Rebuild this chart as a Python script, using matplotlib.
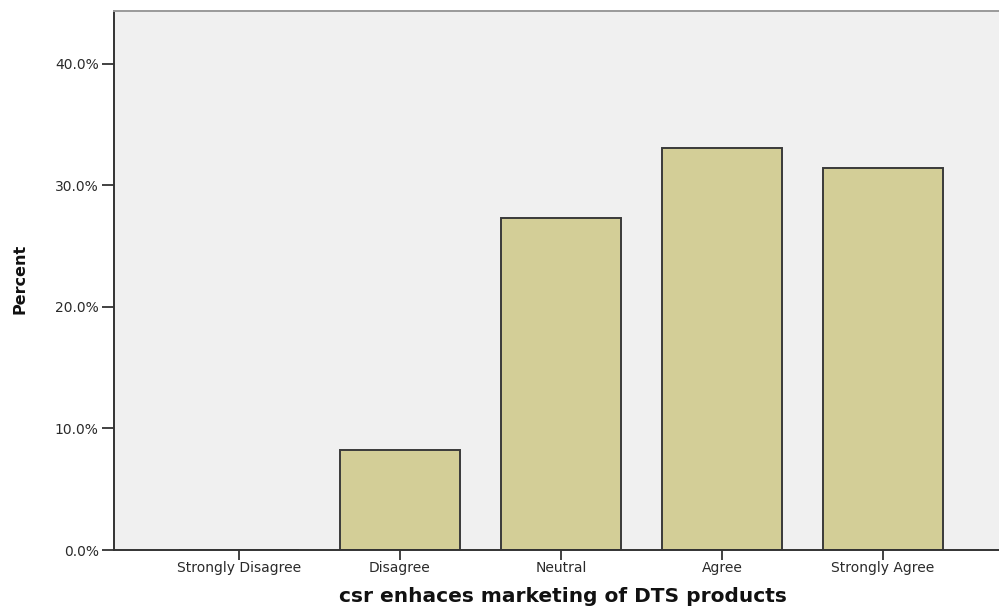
import matplotlib
matplotlib.use("Agg")
import matplotlib.pyplot as plt
from matplotlib.ticker import FuncFormatter

categories = ["Strongly Disagree", "Disagree", "Neutral", "Agree", "Strongly Agree"]
percent = [0.0, 8.2, 27.3, 33.1, 31.4]
y_ticks = [0, 10, 20, 30, 40]

plt.rcParams["font.family"] = ["DejaVu Sans"]

fig = plt.figure(figsize=(9.99, 6.08), dpi=100)
fig.patch.set_facecolor("white")
ax = fig.add_axes([114 / 999, 58 / 608, 894 / 999, 539.5 / 608])
ax.set_facecolor("#f0f0f0")

x = list(range(len(categories)))
ax.bar(x, percent, width=0.75, color="#d3ce97", edgecolor="#3a3a3a", linewidth=1.4, zorder=2)

ax.set_xlim(-0.776, 4.776)
ax.set_ylim(0, 44.4)
ax.set_yticks(y_ticks)
ax.yaxis.set_major_formatter(FuncFormatter(lambda v, p: f"{v:.1f}%"))
ax.set_xticks(x)
ax.set_xticklabels(categories)

ax.tick_params(axis="y", length=9, width=1.3, color="#333333", labelsize=10,
               labelcolor="#2a2a2a", pad=2)
ax.tick_params(axis="x", length=7, width=1.3, color="#333333", labelsize=10,
               labelcolor="#2a2a2a", pad=8.8)
for lbl in ax.get_xticklabels():
    lbl.set_verticalalignment("baseline")

ax.spines["right"].set_visible(False)
ax.spines["left"].set_color("#333333")
ax.spines["left"].set_linewidth(1.4)
ax.spines["bottom"].set_color("#333333")
ax.spines["bottom"].set_linewidth(1.4)
ax.spines["top"].set_color("#9a9a9a")
ax.spines["top"].set_linewidth(1.4)

fig.text(563 / 999, 1 - 597 / 608, "csr enhaces marketing of DTS products",
         ha="center", va="center", fontsize=14.5, fontweight="bold", color="#111111")
fig.text(20 / 999, 1 - 279 / 608, "Percent", rotation=90, ha="center", va="center",
         fontsize=11.5, fontweight="bold", color="#111111")

fig.savefig("out.png", dpi=100)
